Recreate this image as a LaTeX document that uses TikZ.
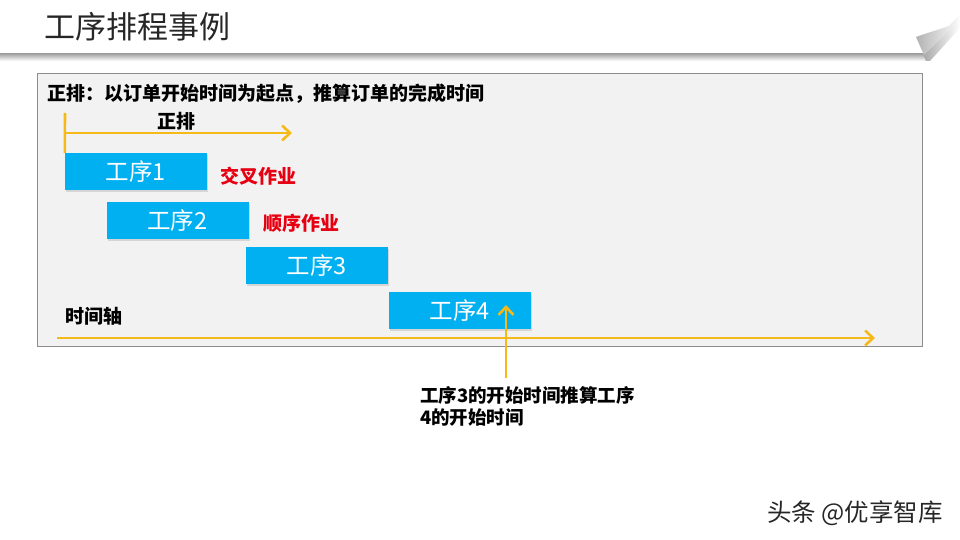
\documentclass[tikz,border=0pt]{standalone}
\usepackage{fontspec}
\setmainfont{Noto Sans CJK SC}
\usepackage{tikz}
\usetikzlibrary{arrows.meta,shadows}
\definecolor{panelfill}{HTML}{F2F2F2}
\definecolor{panelline}{HTML}{8C8C8C}
\definecolor{stepblue}{HTML}{00B0F0}
\definecolor{axisyellow}{HTML}{F5BA1A}
\definecolor{notered}{HTML}{E60012}
\definecolor{titlegray}{HTML}{262626}
\tikzset{
  yline/.style={draw=axisyellow, line width=2.6pt},
  yarrow/.style={yline, -{Straight Barb[length=8pt,width=15pt,line width=2.6pt]}},
  stepbox/.style={fill=stepblue, minimum width=142pt, minimum height=37pt, inner sep=0pt,
    text=white, font=\fontsize{23.5}{23.5}\selectfont,
    drop shadow={opacity=0.25, shadow xshift=1pt, shadow yshift=-2pt}},
  boldlabel/.style={anchor=west, inner sep=0pt, font=\bfseries\fontsize{19}{19}\selectfont},
  redlabel/.style={boldlabel, text=notered}
}
\begin{document}
\begin{tikzpicture}[x=1pt,y=-1pt]
\useasboundingbox (0,0) rectangle (960,540);
% title banner with shadow and page curl
\shade[top color=gray!90, bottom color=white] (0,52) rectangle (926,61);
\shade[left color=gray!70, right color=white] (922,52) -- (960,10) -- (960,28) -- (930,61) -- (926,61) -- cycle;
\fill[white] (0,0) -- (960,0) -- (960,14) -- (924,53) -- (0,53) -- cycle;
\shade[left color=gray!60, right color=white!95!gray] (916,37) .. controls (932,31) and (946,28) .. (958,22) -- (924,55) -- cycle;
\node[anchor=west, inner sep=0pt, text=titlegray, font=\fontsize{31}{31}\selectfont] (title) at (44,27) {工序排程事例};

% panel
\draw[draw=panelline, fill=panelfill, line width=0.8pt] (37,73) rectangle (922,346);
\node[boldlabel] (heading) at (47,94) {正排：以订单开始时间为起点，推算订单的完成时间};

% steps
\node[stepbox] (step1) at (136,171.5) {工序1};
\node[stepbox] (step2) at (177.5,220.5) {工序2};
\node[stepbox] (step3) at (317,265.5) {工序3};
\node[stepbox] (step4) at (460,310.5) {工序4};
\node[redlabel] (cross) at (220,176) {交叉作业};
\node[redlabel] (serial) at (263,223) {顺序作业};

% forward arrow
\coordinate (fwdtop) at (65,113);
\coordinate (fwdstart) at (65,133);
\coordinate (fwdend) at (292,133);
\draw[yline] (fwdtop) -- (step1.north west);
\draw[yarrow] (fwdstart) -- (fwdend);
\node[boldlabel] (fwdlabel) at (157,121) {正排};

% time axis
\node[boldlabel] (axislabel) at (65,316) {时间轴};
\coordinate (axisL) at (57,338);
\coordinate (axisR) at (875,338);
\draw[yarrow] (axisL) -- (axisR);

% note
\coordinate (notetop) at (506,378);
\coordinate (notetip) at (506,305);
\draw[yarrow] (notetop) -- (notetip);
\node[anchor=north west, inner sep=0pt, align=left, font=\bfseries\fontsize{18.5}{22}\selectfont] (note) at (420,386) {工序3的开始时间推算工序\\4的开始时间};

% watermark
\node[anchor=west, inner sep=0pt, text=titlegray, font=\fontsize{24.5}{24.5}\selectfont] (mark) at (767,513) {头条 @优享智库};
\end{tikzpicture}
\end{document}
